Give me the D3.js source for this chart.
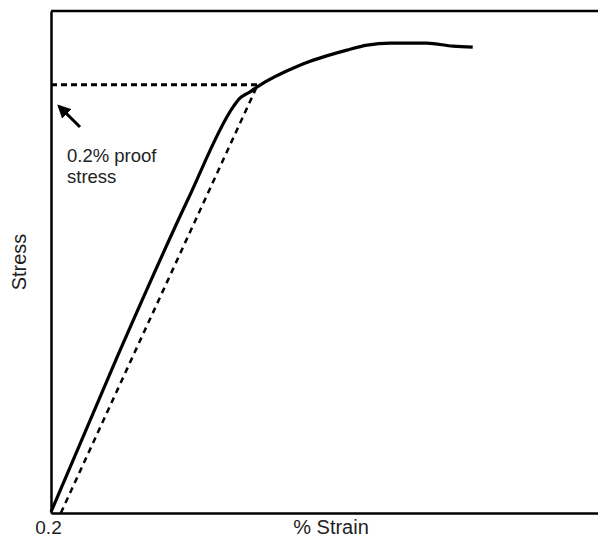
<!DOCTYPE html>
<html>
<head>
<meta charset="utf-8">
<script src="https://cdn.jsdelivr.net/npm/d3@7"></script>
<style>
  html, body { margin: 0; padding: 0; background: #fff; }
  svg { display: block; }
  text { font-family: "Liberation Sans", Arial, sans-serif; fill: #222; }
</style>
</head>
<body>
<svg id="chart" width="598" height="539"></svg>
<script>
// Stress-strain curve (arbitrary units, 0-100 on both axes)
const curveStrain = [0, 12.1, 25.0, 33.3, 34.4, 36.4, 37.7, 45.5, 54.1, 57.8, 62.0, 68.7, 73.5, 77.1];
const curveStress = [0.2, 31.1, 62.4, 80.9, 82.5, 83.9, 84.9, 89.2, 92.2, 93.2, 93.6, 93.6, 93.0, 92.8];
// 0.2% offset line (parallel to elastic part) and proof stress level
const offsetStrain = [1.8, 37.7];
const offsetStress = [0, 85.1];
const proofStrain = [0, 37.7];
const proofStress = [85.3, 85.3];
const xTickValues = [0];
const xTickLabels = ["0.2"];
const xLabel = "% Strain";
const yLabel = "Stress";
const annotation = ["0.2% proof", "stress"];

const svg = d3.select("#chart");
const margin = {left: 51, top: 11, right: 0, bottom: 26};
const W = 598, H = 539;
const x = d3.scaleLinear().domain([0, 100]).range([margin.left, W - margin.right]);
const y = d3.scaleLinear().domain([0, 100]).range([H - margin.bottom, margin.top]);

// frame: top line
svg.append("line")
  .attr("x1", x(0)).attr("x2", x(100)).attr("y1", y(100)).attr("y2", y(100))
  .attr("stroke", "#000").attr("stroke-width", 2.5);

// bottom axis
const xAxis = d3.axisBottom(x).tickValues(xTickValues).tickSize(0)
  .tickFormat((d, i) => xTickLabels[i]);
const gx = svg.append("g").attr("transform", `translate(0,${y(0)})`).call(xAxis);
gx.select(".domain").attr("stroke", "#000").attr("stroke-width", 2.5);
gx.selectAll("text").attr("font-size", 19).attr("y", 21).attr("dy", 0).attr("dx", -3)
  .style("font-family", "Liberation Sans, Arial, sans-serif").attr("fill", "#222");

// left axis
const yAxis = d3.axisLeft(y).tickValues([]).tickSize(0);
const gy = svg.append("g").attr("transform", `translate(${x(0)},0)`).call(yAxis);
gy.select(".domain").attr("stroke", "#000").attr("stroke-width", 2.5);

// axis labels
svg.append("text").attr("x", 331).attr("y", 534).attr("text-anchor", "middle")
  .attr("font-size", 20).text(xLabel);
svg.append("text").attr("transform", `translate(26,${262}) rotate(-90)`)
  .attr("text-anchor", "middle").attr("font-size", 20).text(yLabel);

const line = d3.line().x(d => x(d[0])).y(d => y(d[1]));

// dashed proof level
svg.append("path").datum(d3.zip(proofStrain, proofStress))
  .attr("d", line).attr("fill", "none").attr("stroke", "#000")
  .attr("stroke-width", 3).attr("stroke-dasharray", "6,4");
// dashed offset line
svg.append("path").datum(d3.zip(offsetStrain, offsetStress))
  .attr("d", line).attr("fill", "none").attr("stroke", "#000")
  .attr("stroke-width", 2.5).attr("stroke-dasharray", "6,5");

// main curve
svg.append("path").datum(d3.zip(curveStrain, curveStress))
  .attr("d", d3.line().x(d => x(d[0])).y(d => y(d[1])).curve(d3.curveMonotoneX))
  .attr("fill", "none").attr("stroke", "#000").attr("stroke-width", 3.2)
  .attr("stroke-linejoin", "round");

// arrow
const defs = svg.append("defs");
defs.append("marker").attr("id", "ah").attr("viewBox", "0 0 10 10")
  .attr("refX", 8).attr("refY", 5).attr("markerWidth", 4.5).attr("markerHeight", 4.5)
  .attr("orient", "auto")
  .append("path").attr("d", "M0,0 L10,5 L0,10 z").attr("fill", "#000");
svg.append("line").attr("x1", x(5.3)).attr("y1", y(76.9)).attr("x2", x(1.5)).attr("y2", y(81.0))
  .attr("stroke", "#000").attr("stroke-width", 3).attr("marker-end", "url(#ah)");

// annotation
const ann = svg.append("text").attr("x", 67).attr("y", 162).attr("font-size", 18.5);
annotation.forEach((t, i) => ann.append("tspan").attr("x", 67).attr("dy", i === 0 ? 0 : 21).text(t));
</script>
</body>
</html>
